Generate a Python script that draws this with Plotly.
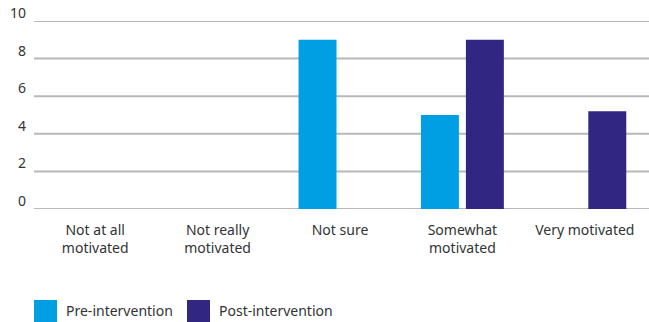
import plotly.graph_objects as go

# Motivation survey responses, before and after the intervention
categories = ["Not at all<br>motivated", "Not really<br>motivated", "Not sure",
              "Somewhat<br>motivated", "Very motivated"]
pre_intervention = [0, 0, 9, 5, 0]
post_intervention = [0, 0, 0, 9, 5.2]
y_ticks = [0, 2, 4, 6, 8, 10]

series = [
    ("Pre-intervention", pre_intervention, "#009fe3"),
    ("Post-intervention", post_intervention, "#312783"),
]

W, H = 649, 322
M = dict(l=34, r=3, t=21, b=113)
plot_w = W - M["l"] - M["r"]
plot_h = H - M["t"] - M["b"]
FONT = "'Noto Sans', sans-serif"
FS = 14
TEXT = "#333333"
GRID = "#b8b8b8"

fig = go.Figure()
for name, vals, color in series:
    fig.add_trace(go.Bar(x=categories, y=vals, name=name,
                         marker=dict(color=color, line=dict(width=0)),
                         showlegend=False))

def px_x(px):
    return (px - M["l"]) / plot_w

def px_y(py):
    return (H - M["b"] - py) / plot_h

shapes, annotations = [], []

# Horizontal gridlines running to the right edge, with labels sitting just above them
for t in y_ticks:
    shapes.append(dict(type="line", xref="paper", yref="y", layer="below",
                       x0=0, x1=px_x(W), y0=t, y1=t,
                       line=dict(color=GRID, width=2)))
    annotations.append(dict(xref="paper", yref="y", x=0, y=t, xshift=-6, yshift=-3,
                            xanchor="right", yanchor="bottom", showarrow=False,
                            text=str(t), font=dict(family=FONT, size=FS, color=TEXT)))

# Legend drawn with large colour swatches under the plot
swatch_left = [34, 187]
for (name, _, color), sx in zip(series, swatch_left):
    shapes.append(dict(type="rect", xref="paper", yref="paper",
                       x0=px_x(sx), x1=px_x(sx + 23), y0=px_y(300), y1=px_y(323),
                       fillcolor=color, line=dict(width=0)))
    annotations.append(dict(xref="paper", yref="paper", x=px_x(sx + 30), y=px_y(311),
                            xanchor="left", yanchor="middle", showarrow=False,
                            text=name, font=dict(family=FONT, size=FS, color=TEXT)))

fig.update_layout(
    width=W, height=H, margin=M,
    paper_bgcolor="white", plot_bgcolor="white",
    barmode="group", bargap=0.265, bargroupgap=0.156,
    font=dict(family=FONT, size=FS, color=TEXT),
    shapes=shapes, annotations=annotations,
    showlegend=False,
)
fig.update_xaxes(showgrid=False, showline=False, zeroline=False, ticks="",
                 tickfont=dict(size=FS, color=TEXT), ticklabelstandoff=11)
fig.update_yaxes(range=[0, 10], showgrid=False, zeroline=False, showline=False,
                 ticks="", showticklabels=False)

fig.write_html("out.html")
